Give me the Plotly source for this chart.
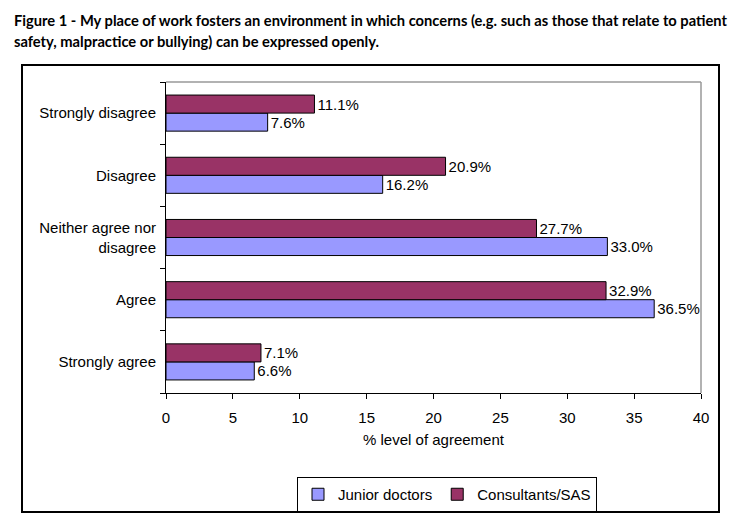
import plotly.graph_objects as go

categories = ["Strongly agree", "Agree", "Neither agree nor<br>disagree", "Disagree", "Strongly disagree"]
junior = [6.6, 36.5, 33.0, 16.2, 7.6]
consultants = [7.1, 32.9, 27.7, 20.9, 11.1]
x_ticks = [0, 5, 10, 15, 20, 25, 30, 35, 40]

# page body has an 8px margin: work in screen coords and shift
OFF = 8
W, H = 748 - 2 * OFF, 532 - 2 * OFF
L, T = 166 - OFF, 82 - OFF
R = W - (701 - OFF)
B = H - (393 - OFF)
pw, ph = W - L - R, H - T - B

def px(x):
    return (x - OFF - L) / pw

def py(y):
    return (H - B - (y - OFF)) / ph

label_font = dict(family="Liberation Sans, Arial", size=15, color="black")
title_font = dict(family="Lato", size=14.7, color="black")

fig = go.Figure()
fig.add_trace(go.Bar(
    y=categories, x=junior, orientation="h", name="Junior doctors",
    marker=dict(color="#9999FF", line=dict(color="black", width=1)),
    text=[f"{v:.1f}%" for v in junior], textposition="outside",
    textfont=label_font, cliponaxis=False,
))
fig.add_trace(go.Bar(
    y=categories, x=consultants, orientation="h", name="Consultants/SAS",
    marker=dict(color="#993366", line=dict(color="black", width=1)),
    text=[f"{v:.1f}%" for v in consultants], textposition="outside",
    textfont=label_font, cliponaxis=False,
))

fig.update_layout(
    width=W, height=H,
    margin=dict(l=L, r=R, t=T, b=B, autoexpand=False),
    paper_bgcolor="white", plot_bgcolor="white",
    barmode="group", bargap=0.42, bargroupgap=0,
    font=label_font,
    showlegend=True,
    legend=dict(
        orientation="h", x=px(447), xanchor="center", y=py(477), yanchor="top",
        bordercolor="black", borderwidth=1, font=label_font,
        itemwidth=30, tracegroupgap=0,
    ),
    xaxis=dict(
        range=[0, 40], tickvals=x_ticks, ticks="outside", ticklen=5,
        tickcolor="black", showline=True, linecolor="black", linewidth=1,
        showgrid=False, zeroline=False, tickfont=label_font, ticklabelstandoff=6,
        title=dict(text="% level of agreement", font=label_font, standoff=9),
    ),
    yaxis=dict(
        type="category", categoryorder="array", categoryarray=categories,
        tickson="boundaries", ticks="outside", ticklen=5, tickcolor="black",
        showline=True, linecolor="black", linewidth=1, showgrid=False,
        tickfont=label_font, ticklabelstandoff=6,
    ),
    shapes=[
        dict(type="rect", xref="paper", yref="paper",
             x0=px(22), x1=px(719), y0=py(512), y1=py(65),
             line=dict(color="black", width=2), fillcolor="rgba(0,0,0,0)", layer="below"),
        dict(type="line", xref="paper", yref="paper", x0=0, x1=1, y0=1, y1=1,
             line=dict(color="#999999", width=1.5)),
        dict(type="line", xref="paper", yref="paper", x0=1, x1=1, y0=0, y1=1,
             line=dict(color="#999999", width=1.5)),
    ],
    annotations=[
        dict(text="<b>Figure 1 - My place of work fosters an environment in which concerns (e.g. such as those that relate to patient</b>",
             xref="paper", yref="paper", x=px(12), y=py(20), xanchor="left", yanchor="middle",
             showarrow=False, font=title_font),
        dict(text="<b>safety, malpractice or bullying) can be expressed openly.</b>",
             xref="paper", yref="paper", x=px(12), y=py(41), xanchor="left", yanchor="middle",
             showarrow=False, font=title_font),
    ],
)

fig.write_html("out.html")
